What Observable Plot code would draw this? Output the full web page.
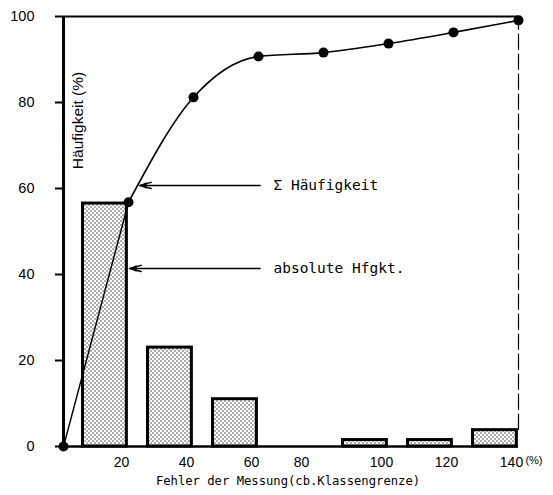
<!DOCTYPE html>
<html><head><meta charset="utf-8">
<script src="https://cdn.jsdelivr.net/npm/d3@7"></script>
<script src="https://cdn.jsdelivr.net/npm/@observablehq/plot@0.6"></script>
<style>body{margin:0;background:#fff}</style>
</head><body><div id="chart"></div>
<script>
// Class upper limits (Fehler der Messung, %) and absolute frequencies (%)
const classes = [20, 40, 60, 80, 100, 120, 140];
const absolute = [56.5, 23, 11, 0, 1.5, 1.5, 3.8];
// Cumulative frequency curve
const cumX = [0, 20, 40, 60, 80, 100, 120, 140];
const cumulative = [0, 56.8, 81.2, 90.7, 91.6, 93.7, 96.3, 99.1];
// Ticks
const yTicks = [0, 20, 40, 60, 80, 100];
const xTicks = [20, 40, 60, 80, 100, 120, 140];
// Annotations
const annLabels = ["Σ Häufigkeit", "absolute Hfgkt."];
const annY = [60.7, 41.4];
const annTipX = [23.4, 20.3];
const annTailX = 60.5;
const annTextX = 64.6;
const yLabel = "Häufigkeit (%)";
const xLabel = "Fehler der Messung(cb.Klassengrenze)";
const unitLabel = "(%)";

const bars = classes.map((c, i) => ({upper: c, value: absolute[i]})).filter(d => d.value > 0);
const pts = cumX.map((x, i) => ({x, y: cumulative[i]}));
const ann = annLabels.map((t, i) => ({text: t, y: annY[i], tip: annTipX[i]}));
const mono = "DejaVu Sans Mono, monospace";

const svg = Plot.plot({
  width: 553, height: 495,
  marginLeft: 63, marginRight: 35, marginTop: 16, marginBottom: 49,
  x: {domain: [0, 140]},
  y: {domain: [0, 100]},
  style: {fontFamily: "Liberation Sans, Arial, sans-serif", fontSize: "14px", background: "white", color: "black"},
  marks: [
    Plot.rectY(bars, {x1: d => d.upper - 14, x2: d => d.upper - 0.5, y: "value",
      fill: "url(#stipple)", stroke: "black", strokeWidth: 3}),
    Plot.ruleY([0], {strokeWidth: 2.5}),
    Plot.ruleY([100], {strokeWidth: 2}),
    Plot.ruleX([0], {strokeWidth: 3}),
    Plot.ruleX([140], {y1: 3.8, y2: 100, strokeWidth: 1.2, strokeDasharray: "16,4"}),
    Plot.axisY({ticks: yTicks, tickSize: 8, tickPadding: 21, strokeWidth: 2, label: null, fontSize: 14.5}),
    Plot.axisX({ticks: xTicks.filter(v => v !== 80), tickSize: 0, tickPadding: 11, dx: -7, label: null, fontSize: 14}),
    Plot.axisX({ticks: [80], tickSize: 0, tickPadding: 11, dx: -22, label: null, fontSize: 14}),
    Plot.line(pts.slice(0, 2), {x: "x", y: "y", strokeWidth: 1.4}),
    Plot.line(pts.slice(1), {x: "x", y: "y", curve: "monotone-x", strokeWidth: 1.6}),
    Plot.dot(pts, {x: "x", y: "y", r: 5, fill: "black"}),
    Plot.arrow(ann, {x1: annTailX, x2: "tip", y1: "y", y2: "y", headLength: 12, headAngle: 30, strokeWidth: 1.5}),
    Plot.dot(ann, {x: "tip", y: "y", dx: 5, symbol: "triangle", rotate: -90, r: 2.6, fill: "black"}),
    Plot.text(ann, {x: annTextX, y: "y", text: "text", textAnchor: "start", fontFamily: mono, fontSize: 14.5}),
    Plot.text([yLabel], {frameAnchor: "top-left", textAnchor: "middle", lineAnchor: "middle", dx: 15, dy: 104, rotate: -90, fontSize: 15.5}),
    Plot.text([xLabel], {frameAnchor: "bottom", dx: -3, dy: 38, fontFamily: mono, fontSize: 12.2}),
    Plot.text([unitLabel], {frameAnchor: "bottom-right", dx: 24, dy: 17, fontSize: 11})
  ]
});

const defs = d3.select(svg).insert("defs", ":first-child");
const pat = defs.append("pattern").attr("id", "stipple").attr("patternUnits", "userSpaceOnUse")
  .attr("width", 4).attr("height", 4);
pat.append("rect").attr("width", 4).attr("height", 4).attr("fill", "white");
pat.append("circle").attr("cx", 1).attr("cy", 1).attr("r", 0.75).attr("fill", "#333");
pat.append("circle").attr("cx", 3).attr("cy", 3).attr("r", 0.75).attr("fill", "#333");

document.getElementById("chart").appendChild(svg);
</script>
</body></html>
